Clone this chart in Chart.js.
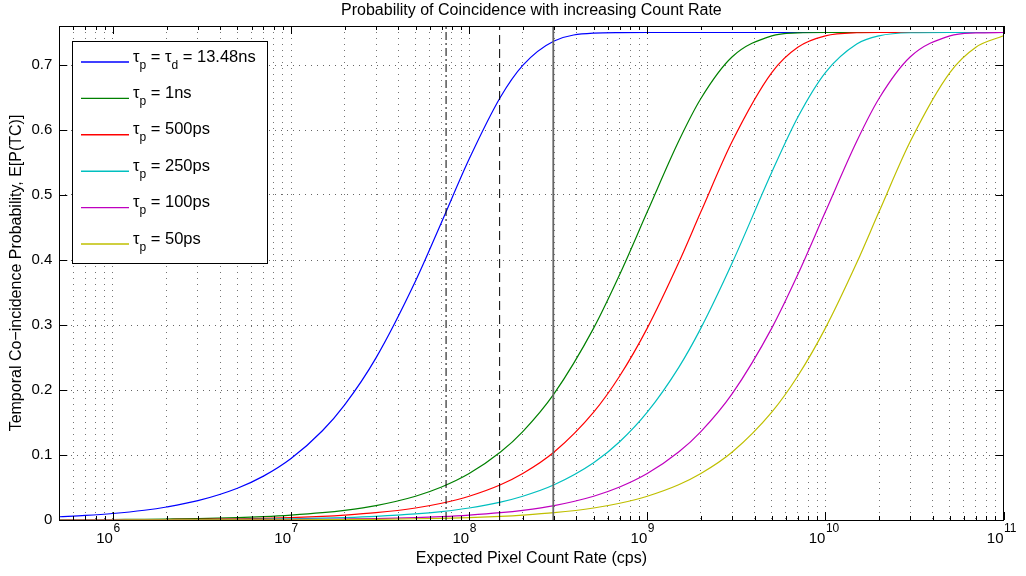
<!DOCTYPE html>
<html>
<head>
<meta charset="utf-8">
<title>Probability of Coincidence with increasing Count Rate</title>
<script src="https://cdn.jsdelivr.net/npm/chart.js@4.4.1/dist/chart.umd.min.js"></script>
<style>
html, body { margin: 0; padding: 0; background: #fff; }
#wrap { width: 1026px; height: 576px; position: relative; }
</style>
</head>
<body>
<div id="wrap"><canvas id="coinc"></canvas></div>
<script>
// count rate samples (cps)
var rates = [5e5, 7e5,
  1e6, 1.5e6, 2e6, 3e6, 5e6, 7e6,
  1e7, 1.5e7, 2e7, 3e7, 5e7, 7e7,
  1e8, 1.5e8, 2e8, 3e8, 5e8, 7e8,
  1e9, 1.5e9, 2e9, 3e9, 5e9, 7e9,
  1e10, 1.5e10, 2e10, 3e10, 5e10, 7e10,
  1e11];

// E[P(TC)] for each curve at the rates above
var p13ns = [0.0050, 0.0070,
  0.0100, 0.0150, 0.0200, 0.0297, 0.0489, 0.0675,
  0.0946, 0.1373, 0.1772, 0.2495, 0.3677, 0.4581,
  0.5552, 0.6507, 0.6994, 0.7369, 0.7491, 0.7499,
  0.75, 0.75, 0.75, 0.75, 0.75, 0.75,
  0.75, 0.75, 0.75, 0.75, 0.75, 0.75,
  0.75];
var p1ns = [0.0004, 0.0005,
  0.0008, 0.0011, 0.0015, 0.0022, 0.0037, 0.0052,
  0.0075, 0.0112, 0.0149, 0.0222, 0.0366, 0.0507,
  0.0714, 0.1045, 0.1360, 0.1944, 0.2952, 0.3776,
  0.4741, 0.5827, 0.6485, 0.7127, 0.7449, 0.7493,
  0.7500, 0.75, 0.75, 0.75, 0.75, 0.75,
  0.75];
var p500ps = [0.0002, 0.0003,
  0.0004, 0.0006, 0.0008, 0.0011, 0.0019, 0.0026,
  0.0037, 0.0056, 0.0075, 0.0112, 0.0185, 0.0258,
  0.0366, 0.0542, 0.0714, 0.1045, 0.1659, 0.2215,
  0.2952, 0.3957, 0.4741, 0.5827, 0.6884, 0.7274,
  0.7449, 0.7496, 0.7500, 0.75, 0.75, 0.75,
  0.75];
var p250ps = [0.0001, 0.0001,
  0.0002, 0.0003, 0.0004, 0.0006, 0.0009, 0.0013,
  0.0019, 0.0028, 0.0037, 0.0056, 0.0093, 0.0130,
  0.0185, 0.0276, 0.0366, 0.0542, 0.0881, 0.1204,
  0.1659, 0.2345, 0.2952, 0.3957, 0.5351, 0.6197,
  0.6884, 0.7324, 0.7449, 0.7496, 0.75, 0.75,
  0.75];
var p100ps = [0.0000, 0.0001,
  0.0001, 0.0001, 0.0002, 0.0002, 0.0004, 0.0005,
  0.0008, 0.0011, 0.0015, 0.0022, 0.0037, 0.0052,
  0.0075, 0.0112, 0.0149, 0.0222, 0.0366, 0.0507,
  0.0714, 0.1045, 0.1360, 0.1944, 0.2952, 0.3776,
  0.4741, 0.5827, 0.6485, 0.7127, 0.7449, 0.7493,
  0.7500];
var p50ps = [0.0000, 0.0000,
  0.0000, 0.0001, 0.0001, 0.0001, 0.0002, 0.0003,
  0.0004, 0.0006, 0.0008, 0.0011, 0.0019, 0.0026,
  0.0037, 0.0056, 0.0075, 0.0112, 0.0185, 0.0258,
  0.0366, 0.0542, 0.0714, 0.1045, 0.1659, 0.2215,
  0.2952, 0.3957, 0.4741, 0.5827, 0.6884, 0.7274,
  0.7449];

var seriesValues = [p13ns, p1ns, p500ps, p250ps, p100ps, p50ps];
var seriesLabels = ['τ_p = τ_d = 13.48ns', 'τ_p = 1ns', 'τ_p = 500ps', 'τ_p = 250ps', 'τ_p = 100ps', 'τ_p = 50ps'];
var seriesColors = ['#0000ff', '#008000', '#ff0000', '#00bfbf', '#bf00bf', '#bfbf00'];

// vertical markers at 1/τd, 2/τd, 4/τd
var markerRates = [7.42e7, 1.483e8, 2.967e8];
var markerDash = [[8, 3, 2, 3], [9, 5], []];
var markerColor = ['#000', '#000', '#666'];
var markerWidth = [1, 1, 1.8];

var yTicks = [0, 0.1, 0.2, 0.3, 0.4, 0.5, 0.6, 0.7];
var xExponents = [5, 6, 7, 8, 9, 10, 11];
var xMultipliers = [1, 2, 3, 4, 5, 6, 7, 8, 9];
var xMin = 5e5, xMax = 1e11;

var fam = "'Liberation Sans', Arial, Helvetica, sans-serif";

var xTickVals = [];
for (var e = 0; e < xExponents.length; e++) {
  for (var m = 0; m < xMultipliers.length; m++) {
    var v = xMultipliers[m] * Math.pow(10, xExponents[e]);
    if (v >= xMin && v <= xMax * 1.0001) xTickVals.push({value: v, major: xMultipliers[m] == 1, exp: xExponents[e]});
  }
}

function build_datasets() {
  var sets = [];
  for (var i = 0; i < seriesValues.length; i++) {
    var pts = [];
    for (var k = 0; k < rates.length; k++) pts.push({x: rates[k], y: seriesValues[i][k]});
    sets.push({
      label: seriesLabels[i].replace(/_/g, ''),
      data: pts,
      borderColor: seriesColors[i],
      borderWidth: 1.2,
      pointRadius: 0,
      fill: false,
      cubicInterpolationMode: 'monotone',
      order: seriesValues.length - i
    });
  }
  for (var j = 0; j < markerRates.length; j++) {
    sets.push({
      label: 'marker' + j,
      data: [{x: markerRates[j], y: 0}, {x: markerRates[j], y: 0.76}],
      borderColor: markerColor[j],
      borderWidth: markerWidth[j],
      borderDash: markerDash[j],
      pointRadius: 0,
      fill: false,
      order: -1 - j
    });
  }
  return sets;
}

// text with "_x" subscripts
function drawRich(ctx, str, x, y, size, subSize) {
  var parts = str.split(/(_.)/);
  for (var i = 0; i < parts.length; i++) {
    var s = parts[i];
    if (!s) continue;
    if (s[0] == '_') {
      ctx.font = subSize + 'px ' + fam;
      ctx.fillText(s[1], x, y + 7);
      x += ctx.measureText(s[1]).width;
    } else {
      ctx.font = size + 'px ' + fam;
      ctx.fillText(s, x, y);
      x += ctx.measureText(s).width;
    }
  }
}

var axesFrame = {
  id: 'axesFrame',
  afterDatasetsDraw: function(chart) {
    var ctx = chart.ctx, a = chart.chartArea, x = chart.scales.x, y = chart.scales.y;
    ctx.save();
    ctx.strokeStyle = '#000';
    ctx.lineWidth = 1;
    ctx.setLineDash([]);
    ctx.beginPath();
    x.ticks.forEach(function(t) {
      var px = Math.round(x.getPixelForValue(t.value)) + 0.5;
      var len = t.major ? 8 : 4;
      ctx.moveTo(px, a.bottom); ctx.lineTo(px, a.bottom - len);
      ctx.moveTo(px, a.top); ctx.lineTo(px, a.top + len);
    });
    y.ticks.forEach(function(t) {
      var py = Math.round(y.getPixelForValue(t.value)) + 0.5;
      ctx.moveTo(a.left, py); ctx.lineTo(a.left + 8, py);
      ctx.moveTo(a.right, py); ctx.lineTo(a.right - 8, py);
    });
    ctx.stroke();
    ctx.strokeRect(Math.round(a.left) + 0.5, Math.round(a.top) + 0.5,
      Math.round(a.right - a.left), Math.round(a.bottom - a.top));

    // x tick labels 10^n
    ctx.fillStyle = '#000';
    ctx.textBaseline = 'alphabetic';
    x.ticks.forEach(function(t) {
      if (!t.major) return;
      var px = x.getPixelForValue(t.value);
      ctx.font = '15px ' + fam;
      ctx.textAlign = 'right';
      ctx.fillText('10', px, a.bottom + 23);
      ctx.font = '12px ' + fam;
      ctx.textAlign = 'left';
      ctx.fillText(String(t.exp), px + 0.5, a.bottom + 12);
    });

    // legend box
    var lx = 72, ly = 41, lw = 195, lh = 222;
    ctx.fillStyle = '#fff';
    ctx.fillRect(lx, ly, lw, lh);
    ctx.strokeRect(lx + 0.5, ly + 0.5, lw, lh);
    ctx.textAlign = 'left';
    for (var i = 0; i < seriesLabels.length; i++) {
      var ry = 62 + i * 36.4;
      ctx.strokeStyle = seriesColors[i];
      ctx.lineWidth = 1.4;
      ctx.beginPath();
      ctx.moveTo(81, ry); ctx.lineTo(129, ry);
      ctx.stroke();
      ctx.fillStyle = '#000';
      drawRich(ctx, seriesLabels[i], 133, ry - 0.5, 16.5, 12);
    }
    ctx.restore();
  }
};

Chart.defaults.font.family = fam;
Chart.defaults.color = '#000';

var ctx1 = document.getElementById('coinc').getContext('2d');
var myChart1 = new Chart(ctx1, {
  type: 'line',
  data: { datasets: build_datasets() },
  options: {
    responsive: true,
    maintainAspectRatio: false,
    animation: false,
    layout: { padding: { left: 0, right: 22.5, top: 0, bottom: 0 } },
    plugins: {
      legend: { display: false },
      tooltip: { enabled: false },
      title: {
        display: true,
        text: 'Probability of Coincidence with increasing Count Rate',
        font: { size: 16, weight: 'normal' },
        color: '#000',
        fullSize: false,
        padding: { top: 0.6, bottom: 6.2 }
      }
    },
    scales: {
      x: {
        type: 'logarithmic',
        min: xMin,
        max: xMax,
        afterBuildTicks: function(s) { s.ticks = xTickVals.map(function(t) { return {value: t.value, major: t.major, exp: t.exp}; }); },
        afterFit: function(s) { s.height = 56; },
        ticks: { display: false },
        grid: { drawTicks: false, color: 'rgba(0,0,0,0.55)', lineWidth: 1 },
        border: { display: false, dash: [1, 5] },
        title: {
          display: true,
          text: 'Expected Pixel Count Rate (cps)',
          font: { size: 16 },
          padding: { top: 29.4, bottom: 7.4 }
        }
      },
      y: {
        type: 'linear',
        min: 0,
        max: 0.76,
        afterBuildTicks: function(s) { s.ticks = yTicks.map(function(v) { return {value: v}; }); },
        afterFit: function(s) { s.width = 59.3; },
        ticks: {
          font: { size: 15 },
          padding: 7,
          callback: function(v) { return v === 0 ? '0' : v.toFixed(1); }
        },
        grid: { drawTicks: false, color: 'rgba(0,0,0,0.6)', lineWidth: 1 },
        border: { display: false, dash: [1, 5] },
        title: {
          display: true,
          text: 'Temporal Co\u2212incidence Probability, E[P(TC)]',
          font: { size: 16 },
          padding: { top: 7.4, bottom: 5.6 }
        }
      }
    }
  },
  plugins: [axesFrame]
});
</script>
</body>
</html>
